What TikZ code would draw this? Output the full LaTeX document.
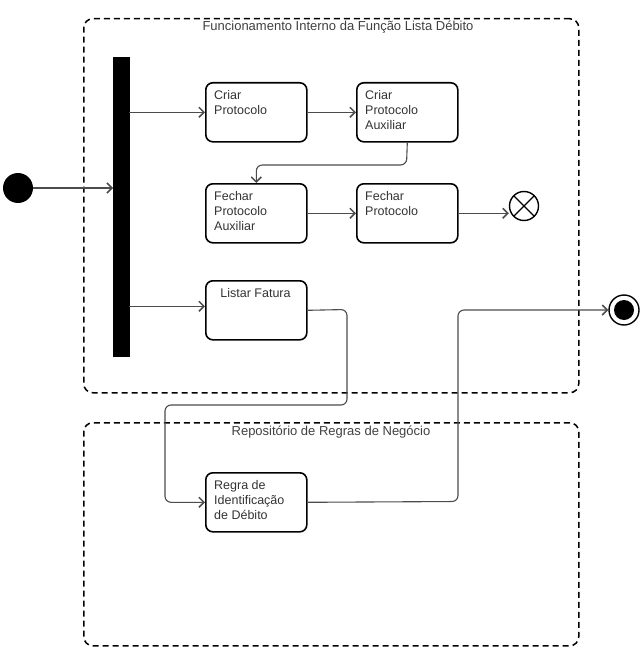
\documentclass[tikz,border=0pt]{standalone}
\usepackage{fontspec}
\setmainfont{Liberation Sans}
\usetikzlibrary{arrows.meta}
\tikzset{
 actbox/.style={draw, line width=1.6pt, rounded corners=7pt, minimum width=101pt, minimum height=59pt, anchor=north west, inner sep=0pt},
 boxtext/.style={anchor=north west, align=left, font=\fontsize{12.5}{15}\selectfont, text=black!80, inner sep=0pt},
 flow/.style={draw=black!70, line width=1.1pt, -{Straight Barb[length=5pt,width=10pt,line width=1.5pt]}, rounded corners=6pt},
 region/.style={draw, line width=1.5pt, dash pattern=on 6pt off 4pt, rounded corners=9pt, anchor=north west, inner sep=0pt},
 regtitle/.style={anchor=north, font=\fontsize{13}{15}\selectfont, text=black!75, inner sep=0pt}
}
\begin{document}
\begin{tikzpicture}[x=1pt,y=-1pt]
\useasboundingbox (0,0) rectangle (642,650);
% regions
\node[region, minimum width=495pt, minimum height=374pt] (r1) at (83,18) {};
\node[regtitle] (r1t) at (338,21) {Funcionamento Interno da Função Lista Débito};
\node[region, minimum width=495pt, minimum height=223pt] (r2) at (83,422) {};
\node[regtitle] (r2t) at (331,426) {Repositório de Regras de Negócio};
% fork bar
\node[fill, draw, inner sep=0pt, minimum width=16pt, minimum height=299pt, anchor=north west] (fork) at (113,57) {};
% initial
\node[circle, fill, inner sep=0pt, minimum size=30pt] (init) at (18,188) {};
% activities
\node[actbox] (cp) at (205,82) {};
\node[boxtext] (cpt) at (214,90) {Criar\\Protocolo};
\node[actbox] (cpa) at (356,82) {};
\node[boxtext] (cpat) at (365,90) {Criar\\Protocolo\\Auxiliar};
\node[actbox] (fpa) at (205,183) {};
\node[boxtext] (fpat) at (214,191) {Fechar\\Protocolo\\Auxiliar};
\node[actbox] (fp) at (356,183) {};
\node[boxtext] (fpt) at (365,191) {Fechar\\Protocolo};
\node[actbox] (lf) at (205,280) {};
\node[boxtext, anchor=north] (lft) at (255.5,288) {Listar Fatura};
\node[actbox] (rg) at (205,472) {};
\node[boxtext] (rgt) at (214,480) {Regra de\\Identificação\\de Débito};
% flow final
\node[circle, draw, line width=1.4pt, inner sep=0pt, minimum size=29pt,
  path picture={\draw[line width=1.2pt] (path picture bounding box.north west) -- (path picture bounding box.south east) (path picture bounding box.north east) -- (path picture bounding box.south west);}] (ff) at (524,206) {};
% final
\node[circle, draw, line width=1.4pt, inner sep=0pt, minimum size=30pt] (fin) at (624,310) {};
\node[circle, fill, inner sep=0pt, minimum size=20pt] (finin) at (624,310) {};
% connectors
\draw[flow] (init) -- (init -| fork.west);
\draw[flow] (fork.east |- cp.west) -- (cp.west);
\draw[flow] ([yshift=4pt]fork.east |- lf.west) -- ([yshift=4pt]lf.west);
\draw[flow] (cp) -- (cpa);
\draw[flow] (cpa.south) -- (406.5,165) -| (fpa.north);
\draw[flow] (fpa) -- (fp);
\draw[flow] (fp.east) -- (fp.east -| ff.west);
\draw[flow] (lf.east) -- (347,309.5) |- (165,405) |- (rg.west);
\draw[flow] (rg.east) -- (458,501.5) |- (fin.west);
\end{tikzpicture}
\end{document}
